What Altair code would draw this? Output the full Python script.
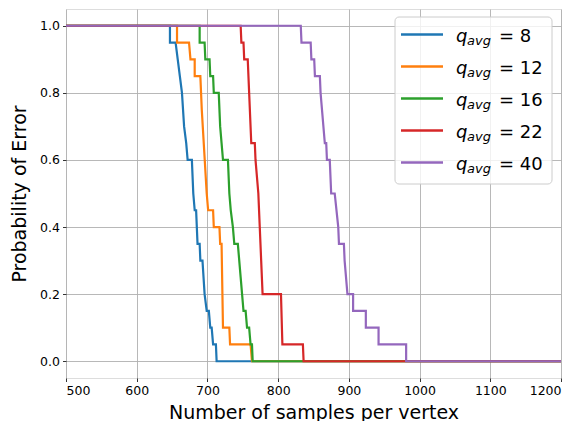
import altair as alt
import pandas as pd

# ---- data ----
series_names = ["8", "12", "16", "22", "40"]
colors = ["#1f77b4", "#ff7f0e", "#2ca02c", "#d62728", "#9467bd"]

x_q8 = [500, 647, 647, 655, 658, 661, 664, 667, 670, 672, 678, 680, 682, 684, 686, 689, 690, 693, 696, 699, 702, 704, 706, 708, 712, 713, 1200]
y_q8 = [1, 1, .95, .95, .9, .85, .8, .7, .65, .6, .6, .5, .45, .45, .35, .35, .3, .3, .2, .15, .15, .1, .1, .05, .05, 0, 0]

x_q12 = [500, 657, 657, 674, 676, 682, 682, 690, 692, 699, 701, 708, 709, 717, 718, 720, 722, 731, 732, 761, 763, 1200]
y_q12 = [1, 1, .95, .95, .9, .9, .85, .85, .75, .5, .45, .45, .4, .4, .35, .35, .1, .1, .05, .05, 0, 0]

x_q16 = [500, 689, 689, 696, 697, 703, 704, 708, 709, 716, 718, 720, 722, 729, 731, 733, 736, 738, 743, 745, 747, 749, 751, 754, 756, 759, 761, 763, 764, 1200]
y_q16 = [1, 1, .95, .95, .9, .9, .85, .85, .8, .8, .7, .65, .6, .6, .5, .45, .4, .35, .35, .3, .25, .2, .15, .15, .1, .1, .05, .05, 0, 0]

x_q22 = [500, 747, 748, 751, 752, 757, 759, 762, 767, 768, 772, 774, 776, 778, 804, 806, 835, 836, 1200]
y_q22 = [1, 1, .95, .95, .9, .9, .8, .65, .65, .6, .5, .4, .3, .2, .2, .05, .05, 0, 0]

x_q40 = [500, 832, 833, 846, 847, 851, 852, 859, 860, 866, 868, 869, 873, 875, 880, 885, 886, 893, 894, 898, 906, 906, 924, 924, 942, 942, 981, 981, 1200]
y_q40 = [1, 1, .95, .95, .9, .9, .85, .85, .8, .65, .65, .6, .6, .5, .5, .4, .35, .35, .3, .2, .2, .15, .15, .1, .1, .05, .05, 0, 0]

x_ticks = [500, 600, 700, 800, 900, 1000, 1100, 1200]
y_ticks = [0.0, 0.2, 0.4, 0.6, 0.8, 1.0]

xs = [x_q8, x_q12, x_q16, x_q22, x_q40]
ys = [y_q8, y_q12, y_q16, y_q22, y_q40]

rows = []
for name, xl, yl in zip(series_names, xs, ys):
    for i, (a, b) in enumerate(zip(xl, yl)):
        rows.append({"series": name, "x": a, "y": b, "i": i})
df = pd.DataFrame(rows)

leg_df = pd.DataFrame({"num": series_names, "idx": list(range(len(series_names))), "color": colors})

FONT = "DejaVu Sans"

layers = []
for k, (name, col) in enumerate(zip(series_names, colors)):
    ln = alt.Chart(df).transform_filter(alt.datum.series == name).mark_line(
        strokeWidth=2.2, color=col, clip=True
    ).encode(
        x=alt.X("x:Q", scale=alt.Scale(domain=[500, 1200], nice=False, zero=False),
                axis=alt.Axis(values=x_ticks, format="d", title="Number of samples per vertex",
                              grid=True, gridColor="#b0b0b0", gridWidth=0.9,
                              domain=False, tickColor="black", tickSize=3.5, tickWidth=0.8,
                              labelFont=FONT, labelFontSize=12.5, labelColor="black", labelPadding=3,
                              titleFont=FONT, titleFontSize=19, titleFontWeight="normal",
                              titleColor="black", titlePadding=6)),
        y=alt.Y("y:Q", scale=alt.Scale(domain=[-0.05, 1.05], nice=False, zero=False),
                axis=alt.Axis(values=y_ticks, format=".1f", title="Probability of Error",
                              grid=True, gridColor="#b0b0b0", gridWidth=0.9,
                              domain=False, tickColor="black", tickSize=3.5, tickWidth=0.8,
                              labelFont=FONT, labelFontSize=12.5, labelColor="black", labelPadding=3,
                              titleFont=FONT, titleFontSize=19, titleFontWeight="normal",
                              titleColor="black", titlePadding=10)),
        order=alt.Order("i:Q"),
    )
    layers.append(ln)

# ---- legend (drawn manually so that q_avg can carry a subscript) ----
box = alt.Chart(leg_df).transform_filter(alt.datum.idx == 0).mark_rect(
    fill="white", fillOpacity=0.8, stroke="#cccccc", strokeWidth=1, cornerRadius=4
).encode(x=alt.value(329), x2=alt.value(486), y=alt.value(8), y2=alt.value(175))

leg_base = alt.Chart(leg_df).transform_calculate(ly="25.5 + 32 * datum.idx")

leg_lines = leg_base.mark_rule(strokeWidth=2.5).encode(
    x=alt.value(335), x2=alt.value(377),
    y=alt.Y("ly:Q", scale=None),
    color=alt.Color("color:N", scale=None),
)
leg_q = leg_base.mark_text(align="left", baseline="alphabetic", font=FONT, fontSize=18,
                           fontStyle="italic", dy=7.5, color="black").encode(
    x=alt.value(390), y=alt.Y("ly:Q", scale=None), text=alt.value("q"))
leg_sub = leg_base.mark_text(align="left", baseline="alphabetic", font=FONT, fontSize=13,
                             fontStyle="italic", dy=10.5, color="black").encode(
    x=alt.value(401), y=alt.Y("ly:Q", scale=None), text=alt.value("avg"))
leg_eq = leg_base.transform_calculate(t="'= ' + datum.num").mark_text(
    align="left", baseline="alphabetic", font=FONT, fontSize=18, dy=7.5, color="black").encode(
    x=alt.value(433), y=alt.Y("ly:Q", scale=None), text="t:N")

chart = alt.layer(*layers, box, leg_lines, leg_q, leg_sub, leg_eq).properties(
    width=495, height=369,
    autosize=alt.AutoSizeParams(type="none"),
    padding={"left": 58, "top": 1, "right": 10, "bottom": 43},
).configure_view(stroke="black", strokeWidth=1).configure(background="white")

chart.save("out.html", embed_options={"renderer": "svg", "actions": False})
